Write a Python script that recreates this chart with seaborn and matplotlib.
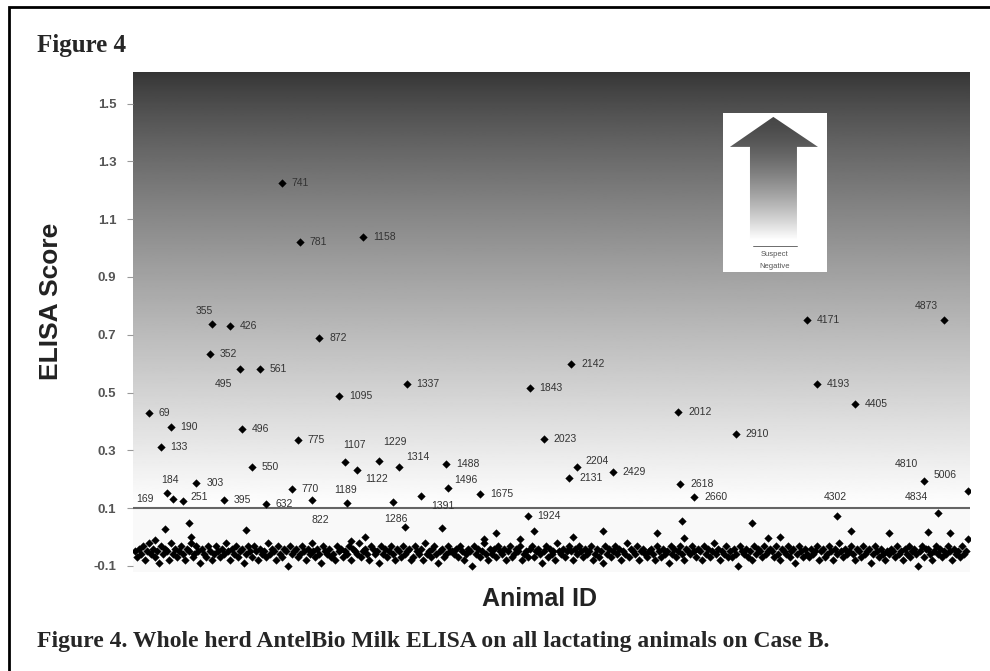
import numpy as np
import pandas as pd
import seaborn as sns
import matplotlib
matplotlib.use("Agg")
import matplotlib.pyplot as plt
from matplotlib.patches import Polygon, Rectangle

# labelled animals: id, position in herd order, ELISA score
label_ids = [69, 133, 169, 184, 190, 251, 303, 352, 355, 395, 426, 495, 496, 550, 561,
             632, 741, 770, 775, 781, 822, 872, 1095, 1107, 1122, 1158, 1189, 1229, 1286,
             1314, 1337, 1391, 1488, 1496, 1675, 1843, 1924, 2012, 2023, 2131, 2142, 2204,
             2429, 2618, 2660, 2910, 4171, 4193, 4302, 4405, 4810, 4834, 4873, 5006]
label_rank = [7, 13, 19, 16, 18, 24, 31, 38, 39, 45, 48, 53, 54, 59, 63,
              66, 74, 79, 82, 83, 89, 93, 103, 106, 112, 115, 107, 123, 130,
              133, 137, 144, 157, 158, 174, 199, 198, 274, 206, 219, 220, 223,
              241, 275, 282, 303, 339, 344, 354, 363, 398, 405, 408, 420]
label_score = [0.428, 0.312, 0.131, 0.151, 0.381, 0.125, 0.188, 0.633, 0.737, 0.128, 0.730,
               0.583, 0.373, 0.243, 0.583, 0.114, 1.226, 0.166, 0.335, 1.021, 0.128, 0.687,
               0.488, 0.258, 0.231, 1.037, 0.118, 0.263, 0.120, 0.241, 0.531, 0.143, 0.251,
               0.168, 0.148, 0.516, 0.072, 0.433, 0.338, 0.203, 0.598, 0.243, 0.226, 0.182,
               0.139, 0.355, 0.751, 0.528, 0.072, 0.460, 0.194, 0.082, 0.751, 0.159]

# where a label does not sit to the right of its point (pixel offset of the label centre)
label_offsets = {355: (-8, 13), 495: (-17, -15), 1107: (9, 17), 1229: (16, 19), 1122: (19, -9),
                 1314: (19, 10), 2204: (20, 6), 4873: (-18, 14), 184: (3, 13), 169: (-28, 0),
                 251: (17, 4), 822: (9, -20), 1189: (-2, 13), 1286: (3, -17), 1391: (22, -10),
                 1496: (17, 8), 4302: (-2, 19), 4834: (-22, 16), 4810: (-18, 17), 5006: (-23, 16)}

# unlabelled animals just under the cut-off
low_rank = [27, 28, 15, 10, 56, 116, 109, 136, 155, 182, 176, 201, 194, 276, 277, 236,
            311, 263, 221, 361, 380, 400, 411, 420, 325, 319]
low_score = [0.048, 0.0, 0.027, -0.01, 0.024, 0.0, -0.014, 0.034, 0.031, 0.013, -0.007,
             0.020, -0.007, 0.055, -0.004, 0.020, 0.048, 0.013, 0.0, 0.020, 0.013, 0.017,
             0.013, -0.007, 0.0, -0.004]

# rest of the herd, in order
herd_score = [
    -0.05, -0.07, -0.04, -0.06, -0.03, -0.08, -0.05, -0.02, -0.06, -0.04, -0.07, -0.05, -0.09, -0.03, -0.06, -0.04, -0.05, -0.08, -0.02, -0.06,
    -0.04, -0.07, -0.05, -0.03, -0.06, -0.08, -0.04, -0.05, -0.02, -0.07, -0.06, -0.03, -0.05, -0.09, -0.04, -0.06, -0.07, -0.03, -0.05, -0.08,
    -0.06, -0.03, -0.05, -0.07, -0.04, -0.06, -0.02, -0.05, -0.08, -0.04, -0.06, -0.03, -0.07, -0.05, -0.04, -0.09, -0.06, -0.03, -0.05, -0.07,
    -0.03, -0.05, -0.08, -0.04, -0.06, -0.05, -0.07, -0.02, -0.06, -0.04, -0.05, -0.08, -0.03, -0.06, -0.07, -0.04, -0.05, -0.10, -0.03, -0.06,
    -0.05, -0.04, -0.07, -0.06, -0.03, -0.05, -0.08, -0.04, -0.06, -0.02, -0.05, -0.07, -0.04, -0.06, -0.09, -0.03, -0.05, -0.06, -0.04, -0.07,
    -0.06, -0.08, -0.03, -0.05, -0.04, -0.07, -0.05, -0.06, -0.03, -0.08, -0.04, -0.05, -0.06, -0.02, -0.07, -0.05, -0.04, -0.06, -0.08, -0.03,
    -0.04, -0.06, -0.05, -0.09, -0.03, -0.06, -0.04, -0.07, -0.05, -0.03, -0.06, -0.08, -0.04, -0.05, -0.07, -0.03, -0.06, -0.05, -0.04, -0.08,
    -0.07, -0.03, -0.05, -0.06, -0.04, -0.08, -0.02, -0.06, -0.05, -0.07, -0.04, -0.03, -0.06, -0.09, -0.05, -0.04, -0.07, -0.06, -0.03, -0.05,
    -0.05, -0.06, -0.04, -0.07, -0.03, -0.05, -0.08, -0.06, -0.04, -0.05, -0.10, -0.03, -0.06, -0.04, -0.07, -0.05, -0.02, -0.06, -0.08, -0.04,
    -0.06, -0.04, -0.07, -0.03, -0.05, -0.06, -0.04, -0.08, -0.05, -0.03, -0.07, -0.06, -0.04, -0.05, -0.03, -0.08, -0.06, -0.05, -0.07, -0.04,
    -0.03, -0.07, -0.05, -0.04, -0.06, -0.09, -0.05, -0.03, -0.07, -0.04, -0.06, -0.05, -0.08, -0.02, -0.05, -0.06, -0.04, -0.07, -0.05, -0.03,
    -0.05, -0.08, -0.04, -0.06, -0.03, -0.05, -0.07, -0.04, -0.06, -0.05, -0.03, -0.08, -0.06, -0.04, -0.07, -0.05, -0.09, -0.03, -0.06, -0.04,
    -0.07, -0.05, -0.03, -0.06, -0.04, -0.08, -0.05, -0.06, -0.02, -0.07, -0.04, -0.05, -0.06, -0.03, -0.08, -0.05, -0.04, -0.06, -0.07, -0.05,
    -0.04, -0.06, -0.08, -0.03, -0.05, -0.07, -0.04, -0.06, -0.05, -0.09, -0.03, -0.06, -0.04, -0.07, -0.05, -0.03, -0.06, -0.08, -0.04, -0.05,
    -0.06, -0.03, -0.05, -0.07, -0.04, -0.05, -0.08, -0.03, -0.06, -0.04, -0.07, -0.05, -0.02, -0.06, -0.04, -0.08, -0.05, -0.06, -0.03, -0.07,
    -0.05, -0.07, -0.04, -0.06, -0.10, -0.03, -0.05, -0.06, -0.04, -0.07, -0.05, -0.08, -0.03, -0.06, -0.04, -0.05, -0.07, -0.03, -0.06, -0.05,
    -0.04, -0.05, -0.07, -0.03, -0.06, -0.08, -0.04, -0.05, -0.06, -0.03, -0.07, -0.05, -0.04, -0.09, -0.06, -0.03, -0.05, -0.07, -0.04, -0.06,
    -0.07, -0.04, -0.06, -0.05, -0.03, -0.08, -0.05, -0.04, -0.07, -0.06, -0.03, -0.05, -0.08, -0.04, -0.06, -0.02, -0.05, -0.07, -0.04, -0.06,
    -0.05, -0.03, -0.06, -0.08, -0.04, -0.05, -0.07, -0.03, -0.06, -0.05, -0.04, -0.09, -0.06, -0.03, -0.05, -0.07, -0.04, -0.06, -0.08, -0.05,
    -0.06, -0.04, -0.05, -0.07, -0.03, -0.06, -0.05, -0.08, -0.04, -0.06, -0.03, -0.07, -0.05, -0.04, -0.06, -0.10, -0.05, -0.03, -0.07, -0.04,
    -0.04, -0.06, -0.08, -0.05, -0.03, -0.06, -0.04, -0.07, -0.05, -0.06, -0.03, -0.05, -0.08, -0.04, -0.06, -0.05, -0.07, -0.03, -0.06, -0.05,
]

y_ticks = [-0.1, 0.1, 0.3, 0.5, 0.7, 0.9, 1.1, 1.3, 1.5]
cutoff = 0.1

df = pd.concat([
    pd.DataFrame({'rank': np.arange(len(herd_score)), 'score': herd_score}),
    pd.DataFrame({'rank': low_rank, 'score': low_score}),
    pd.DataFrame({'rank': label_rank, 'score': label_score}),
], ignore_index=True)

sns.set_style("white")
plt.rcParams['font.family'] = ['Liberation Sans', 'DejaVu Sans']

fig = plt.figure(figsize=(9.9, 6.71), dpi=100)
ax = fig.add_axes([133 / 990, 1 - 572 / 671, 837 / 990, 500 / 671])
xmin, xmax = -1, 421
ymin, ymax = -0.121, 1.609

# grey gradient above the cut-off
vv = np.linspace(cutoff, ymax, 400)
frac = (ymax - vv) / (ymax - cutoff)
shade = 0.2 + 0.8 * frac ** 0.8
ax.imshow(shade[:, None], extent=[xmin, xmax, cutoff, ymax], origin='lower', cmap='gray',
          vmin=0, vmax=1, aspect='auto', zorder=0)
ax.set_facecolor('#f9f9f9')
ax.axhline(cutoff, color='#666666', lw=1.5, zorder=2)

sns.scatterplot(data=df, x='rank', y='score', marker='D', s=15, color='black',
                edgecolor='black', linewidth=0.3, ax=ax, legend=False, zorder=3)

for aid, r, sc in zip(label_ids, label_rank, label_score):
    if aid in label_offsets:
        dx, dy = label_offsets[aid]
        ax.annotate(str(aid), (r, sc), xytext=(dx * 0.72, dy * 0.72), textcoords='offset points',
                    ha='center', va='center', fontsize=7.5, color='#333333', zorder=4)
    else:
        ax.annotate(str(aid), (r, sc), xytext=(7, 0), textcoords='offset points',
                    ha='left', va='center', fontsize=7.5, color='#333333', zorder=4)

ax.set_xlim(xmin, xmax)
ax.set_ylim(ymin, ymax)
ax.set_xticks([])
ax.set_yticks(y_ticks)
ax.set_yticklabels([f'{t:.1f}' for t in y_ticks], fontweight='bold', color='#555555', fontsize=9.5)
ax.tick_params(axis='y', left=True, length=4, color='#999999', width=0.8, pad=8)
for sp in ax.spines.values():
    sp.set_visible(False)

ax.set_ylabel('ELISA Score', fontsize=19, fontweight='bold', color='#222222')
ax.yaxis.set_label_coords(-0.0836, 0.542)
ax.set_xlabel('Animal ID', fontsize=18, fontweight='bold', color='#222222')
ax.xaxis.set_label_coords(0.486, -0.03)

# suspect / negative arrow key
ins = ax.inset_axes([0.7045, 0.599, 0.1243, 0.32])
ins.set_xlim(0, 1)
ins.set_ylim(0, 1)
ins.axis('off')
ins.add_patch(Rectangle((0, 0), 1, 1, facecolor='white', edgecolor='none', zorder=0))
arrow_pts = [(0.2625, 0.183), (0.714, 0.183), (0.714, 0.785), (0.916, 0.785),
             (0.487, 0.9725), (0.07, 0.785), (0.2625, 0.785)]
poly = Polygon(arrow_pts, closed=True, facecolor='none', edgecolor='none')
ins.add_patch(poly)
yy = np.linspace(0, 1, 300)
t = np.clip((0.97 - yy) / (0.97 - 0.2), 0, 1)
ag = 0.28 + 0.72 * t ** 1.5
im = ins.imshow(ag[:, None], extent=[0, 1, 0, 1], origin='lower', cmap='gray', vmin=0, vmax=1,
                aspect='auto', zorder=1)
im.set_clip_path(poly)
ins.plot([0.29, 0.71], [0.164, 0.164], color='#555555', lw=0.6)
ins.text(0.5, 0.115, 'Suspect', ha='center', va='center', fontsize=5.5, color='#555555')
ins.text(0.5, 0.04, 'Negative', ha='center', va='center', fontsize=5.5, color='#555555')

# page frame, title and caption
fig.patches.append(Rectangle((9 / 990, -0.1), 1.2, 1 - 7 / 671 + 0.1, transform=fig.transFigure,
                             fill=False, edgecolor='black', lw=2))
fig.text(37 / 990, 1 - 52 / 671, 'Figure 4', family='Liberation Serif', fontweight='bold',
         fontsize=18, va='baseline', ha='left')
fig.text(37 / 990, 1 - 647 / 671,
         'Figure 4. Whole herd AntelBio Milk ELISA on all lactating animals on Case B.',
         family='Liberation Serif', fontweight='bold', fontsize=17, va='baseline', ha='left')

fig.savefig('out.png', dpi=100)
